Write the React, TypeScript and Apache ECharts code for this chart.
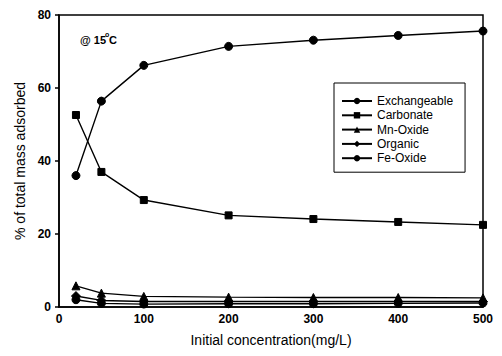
import React, { useEffect, useRef } from "react";
import * as echarts from "echarts";

const concentrations = [20, 50, 100, 200, 300, 400, 500];
const exchangeable = [36, 56.4, 66.2, 71.4, 73.1, 74.4, 75.6];
const carbonate = [52.6, 37, 29.3, 25.1, 24.1, 23.3, 22.5];
const mnOxide = [5.8, 3.8, 2.9, 2.7, 2.6, 2.6, 2.5];
const organic = [3.0, 1.8, 1.5, 1.5, 1.5, 1.5, 1.5];
const feOxide = [2.0, 1.0, 0.8, 0.9, 0.9, 1.0, 1.1];

const seriesDefs = [
  { name: "Exchangeable", data: exchangeable, symbol: "circle", size: 8 },
  { name: "Carbonate", data: carbonate, symbol: "rect", size: 7 },
  { name: "Mn-Oxide", data: mnOxide, symbol: "triangle", size: 8 },
  { name: "Organic", data: organic, symbol: "diamond", size: 9 },
  { name: "Fe-Oxide", data: feOxide, symbol: "circle", size: 8 },
];

const FONT = "Liberation Sans, Arial, sans-serif";

export default function App() {
  const ref = useRef<HTMLDivElement>(null);
  useEffect(() => {
    if (!ref.current) return;
    const chart = echarts.init(ref.current, undefined, { renderer: "svg" });
    chart.setOption({
      animation: false,
      backgroundColor: "#fff",
      grid: { left: 59, right: 19, top: 15, bottom: 49, show: true, borderColor: "#000", borderWidth: 1.5 },
      xAxis: {
        type: "value",
        min: 0,
        max: 500,
        interval: 100,
        name: "Initial concentration(mg/L)",
        nameLocation: "middle",
        nameGap: 26,
        nameTextStyle: { fontFamily: FONT, fontSize: 14, color: "#000" },
        axisLine: { lineStyle: { color: "#000", width: 1.5 } },
        axisTick: { show: false },
        axisLabel: { fontFamily: FONT, fontSize: 12, fontWeight: "bold", color: "#000", margin: 6 },
        splitLine: { show: false },
      },
      yAxis: {
        type: "value",
        min: 0,
        max: 80,
        interval: 20,
        name: "% of total mass adsorbed",
        nameLocation: "middle",
        nameGap: 29,
        nameTextStyle: { fontFamily: FONT, fontSize: 14, color: "#000" },
        axisLine: { lineStyle: { color: "#000", width: 1.5 } },
        axisTick: { show: true, length: 4, lineStyle: { color: "#000", width: 1.5 } },
        axisLabel: { fontFamily: FONT, fontSize: 12, fontWeight: "bold", color: "#000", margin: 8 },
        splitLine: { show: false },
      },
      legend: {
        orient: "vertical",
        left: 334,
        top: 83,
        padding: [12, 12, 8, 7],
        itemGap: 2.3,
        itemWidth: 30,
        itemHeight: 8,
        borderColor: "#000",
        borderWidth: 1,
        backgroundColor: "#fff",
        textStyle: { fontFamily: FONT, fontSize: 12, lineHeight: 12, color: "#000" },
        data: seriesDefs.map((s) => s.name),
      },
      graphic: [
        {
          type: "text",
          left: 80,
          top: 34,
          style: {
            text: "@ 15",
            fontFamily: FONT,
            fontSize: 11,
            fontWeight: "bold",
            fill: "#000",
          },
        },
        {
          type: "text",
          left: 105,
          top: 31,
          style: { text: "o", fontFamily: FONT, fontSize: 7, fontWeight: "bold", fill: "#000" },
        },
        {
          type: "text",
          left: 109,
          top: 34,
          style: { text: "C", fontFamily: FONT, fontSize: 11, fontWeight: "bold", fill: "#000" },
        },
      ],
      series: seriesDefs.map((s) => ({
        name: s.name,
        type: "line",
        data: concentrations.map((c, i) => [c, s.data[i]]),
        symbol: s.symbol,
        symbolSize: s.size,
        showAllSymbol: true,
        lineStyle: { color: "#000", width: 1.4 },
        itemStyle: { color: "#000", borderColor: "#000" },
        emphasis: { disabled: true },
      })),
    });
    return () => chart.dispose();
  }, []);
  return <div ref={ref} style={{ width: 502, height: 356, position: "absolute", left: 0, top: 0 }} />;
}
